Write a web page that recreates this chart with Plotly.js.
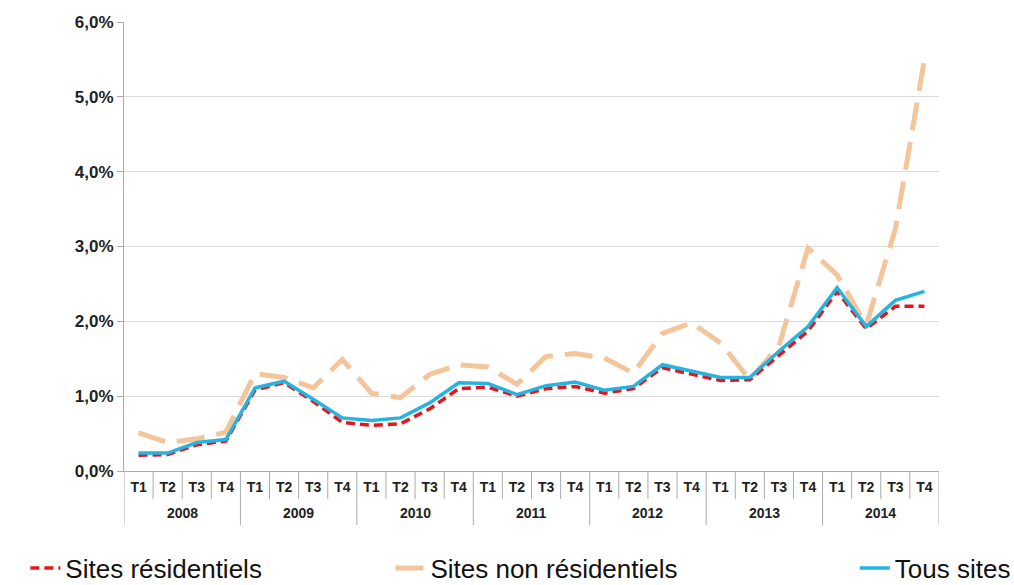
<!DOCTYPE html>
<html>
<head>
<meta charset="utf-8">
<script src="https://cdn.plot.ly/plotly-3.0.1.min.js"></script>
<style>
  html, body { margin: 0; padding: 0; background: #fff; }
  #chart { width: 1014px; height: 585px; }
</style>
</head>
<body>
<div id="chart"></div>
<script>
// ---- Data ----
const years = ['2008', '2009', '2010', '2011', '2012', '2013', '2014'];
const quarters = ['T1', 'T2', 'T3', 'T4'];

const residential = [0.21, 0.22, 0.35, 0.40, 1.08, 1.18, 0.93, 0.65,
                     0.61, 0.63, 0.83, 1.10, 1.12, 1.00, 1.10, 1.13,
                     1.04, 1.10, 1.38, 1.30, 1.21, 1.22, 1.55, 1.87,
                     2.40, 1.90, 2.20, 2.20];
const nonResidential = [0.51, 0.38, 0.43, 0.52, 1.30, 1.25, 1.11, 1.49,
                        1.04, 0.98, 1.29, 1.42, 1.39, 1.16, 1.53, 1.57,
                        1.51, 1.31, 1.84, 1.98, 1.71, 1.22, 1.67, 2.98,
                        2.62, 1.95, 3.23, 5.50];
const allSites = [0.24, 0.24, 0.38, 0.42, 1.11, 1.20, 0.96, 0.71,
                  0.675, 0.71, 0.91, 1.18, 1.17, 1.02, 1.14, 1.19,
                  1.08, 1.13, 1.42, 1.33, 1.25, 1.25, 1.60, 1.93,
                  2.45, 1.93, 2.28, 2.40];

const seriesNames = ['Sites résidentiels', 'Sites non résidentiels', 'Tous sites'];

// ---- Derived axis helpers (from the arrays above) ----
const quarterLabels = [];
years.forEach(() => quarters.forEach(q => quarterLabels.push(q)));
const nCat = quarterLabels.length;
const xIdx = quarterLabels.map((_, i) => i);
const nQ = quarters.length;
const yearCenters = years.map((_, k) => k * nQ + (nQ - 1) / 2);
const xRange = [-0.5, nCat - 0.5];

const traces = [
  {
    type: 'scatter', mode: 'lines', x: xIdx, y: nonResidential, name: seriesNames[1],
    line: { color: '#f4c59a', width: 5, dash: '28px,12px' },
    legend: 'legend2'
  },
  {
    type: 'scatter', mode: 'lines', x: xIdx, y: residential, name: seriesNames[0],
    line: { color: '#e3161b', width: 3.5, dash: '9px,5px' },
    legend: 'legend'
  },
  {
    type: 'scatter', mode: 'lines', x: xIdx, y: allSites, name: seriesNames[2],
    line: { color: '#25b4e2', width: 3.5 },
    legend: 'legend3'
  }
];

const tickFont = { family: 'Liberation Sans, Arial, sans-serif', size: 14, weight: 'bold', color: '#222' };
const legendFont = { family: 'Liberation Sans, Arial, sans-serif', size: 26, color: '#111' };
const legendBase = {
  orientation: 'h', xref: 'container', yref: 'container',
  yanchor: 'middle', y: 0.029, bgcolor: 'rgba(0,0,0,0)', font: legendFont,
  itemclick: false
};
const gridGray = '#ababab';

// separators below the axis: short ones between quarters, long ones between years
const shapes = [];
for (let i = 0; i <= nCat; i++) {
  const isYear = (i % nQ === 0);
  shapes.push({
    type: 'line', xref: 'x', yref: 'paper', ysizemode: 'pixel', yanchor: 0,
    x0: i - 0.5, x1: i - 0.5, y0: 0, y1: isYear ? -54 : -28,
    line: { color: gridGray, width: 1 }, layer: 'above'
  });
}
// year labels under the quarter labels
const annotations = years.map((yr, k) => ({
  text: yr, x: yearCenters[k], xref: 'x', yref: 'paper', y: 0,
  yanchor: 'middle', xanchor: 'center', yshift: -42, showarrow: false,
  font: tickFont
}));

const layout = {
  width: 1014, height: 585,
  margin: { l: 124, r: 75, t: 22, b: 114 },
  paper_bgcolor: '#ffffff', plot_bgcolor: '#ffffff',
  separators: ', ',
  font: { family: 'Liberation Sans, Arial, sans-serif', color: '#222' },
  xaxis: {
    range: xRange, autorange: false,
    tickmode: 'array', tickvals: xIdx, ticktext: quarterLabels,
    ticks: '', showgrid: false, zeroline: false,
    showline: true, linecolor: gridGray, linewidth: 1,
    ticklabelstandoff: 3, tickfont: tickFont
  },
  yaxis: {
    range: [0, 6], dtick: 1, tickformat: '.1f', ticksuffix: '%',
    showline: true, linecolor: gridGray, linewidth: 1,
    ticks: 'outside', ticklen: 6, tickcolor: gridGray,
    gridcolor: '#dcdcdc', gridwidth: 1, zeroline: false,
    tickfont: { family: 'Liberation Sans, Arial, sans-serif', size: 17, weight: 'bold', color: '#222' }
  },
  shapes: shapes,
  annotations: annotations,
  showlegend: true,
  legend: Object.assign({}, legendBase, { x: 0.025 }),
  legend2: Object.assign({}, legendBase, { x: 0.385 }),
  legend3: Object.assign({}, legendBase, { x: 0.843 })
};

Plotly.newPlot('chart', traces, layout, { displayModeBar: false, staticPlot: true });
</script>
</body>
</html>
